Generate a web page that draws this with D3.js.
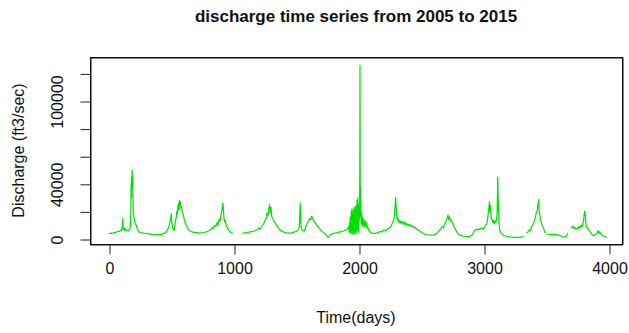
<!DOCTYPE html>
<html>
<head>
<meta charset="utf-8">
<script src="https://cdn.jsdelivr.net/npm/d3@7"></script>
<style>
  html, body { margin: 0; padding: 0; background: #fff; }
  text { font-family: "Liberation Sans", Arial, sans-serif; fill: #111; }
</style>
</head>
<body>
<svg id="chart" width="629" height="333"></svg>
<script>
// ---- data ----
const chartTitle = "discharge time series from 2005 to 2015";
const xLabel = "Time(days)";
const yLabel = "Discharge (ft3/sec)";
const xTicks = [0, 1000, 2000, 3000, 4000];
const yTicks = [0, 20000, 40000, 60000, 80000, 100000, 120000];
const yTickLabelsShown = [0, 40000, 100000];

// [day, discharge ft3/sec]; null = missing record
const dischargeSeries = [
  [0,4200],[10,3900],[20,4300],[30,4100],[40,4600],[50,4800],[60,5100],[70,5600],[80,5200],[90,6000],[100,6400],
  [105,9000],[110,15000],[113,7000],[120,6500],[125,8000],[130,6200],[140,6600],[150,6000],[160,6800],[170,8000],
  [175,20000],[177,40000],[179,30000],[181,45000],[183,38000],[185,50000],[187,42000],[189,46000],[191,35000],
  [193,22000],[195,18000],[200,16000],[205,13000],[210,11000],[218,10000],[225,8000],[232,6000],[240,5300],[250,4800],
  [260,4500],[280,4200],[300,4000],[320,3700],[340,3400],[360,3200],[380,3000],[400,3100],[420,3400],[440,4000],
  [455,5000],[465,6500],[475,8000],[485,11000],[492,14000],[498,18500],[503,12000],[508,9000],[514,7000],[520,6000],
  [526,9000],[532,13000],[538,16000],[542,20000],[547,18000],[551,23000],[556,26000],[560,21000],[564,28000],
  [568,24000],[572,27000],[576,22000],[580,23000],[585,20000],[590,19000],[596,17000],[602,14000],[610,12000],
  [618,10000],[626,8500],[635,7000],[645,6000],[660,5300],[680,4800],[700,4600],[720,4300],[740,4500],[760,4700],
  [780,5200],[800,6000],[815,7000],[825,8500],[835,7500],[845,10000],[855,9000],[865,12000],[872,10000],[880,14000],
  [888,13000],[895,17000],[902,20000],[908,24000],[912,26000],[916,20000],[920,15000],[925,12500],[930,13500],
  [936,11000],[942,9000],[950,7500],[960,6000],[970,5000],[980,4500],[992,4300],[1000,null],
  [1068,4400],[1080,4300],[1100,4600],[1120,5000],[1140,5300],[1160,5600],[1175,6500],[1190,6800],[1200,8000],
  [1210,7000],[1220,9000],[1230,10000],[1240,11500],[1250,14000],[1258,15000],[1265,19000],[1272,17000],
  [1278,22000],[1285,25000],[1290,19000],[1296,23000],[1302,16000],[1310,15500],[1318,13000],[1325,12500],
  [1335,11000],[1345,9000],[1355,8000],[1370,6500],[1385,5500],[1400,5000],[1420,4500],[1440,4200],[1460,4300],
  [1480,5000],[1500,5500],[1510,6500],[1520,7500],[1525,12000],[1530,26000],[1533,18000],[1537,8000],[1545,6500],
  [1555,6000],[1565,6200],[1575,9000],[1585,11000],[1592,12500],[1600,13500],[1608,15000],[1615,14000],
  [1622,16500],[1630,15000],[1638,13000],[1645,12500],[1655,11000],[1665,9500],[1675,8500],[1685,7500],
  [1695,6500],[1705,5500],[1715,4800],[1725,4000],[1735,3200],[1745,2000],[1752,1100],[1758,1500],[1765,2500],
  [1775,3200],[1790,4000],[1805,4200],[1820,4500],[1840,5000],[1860,5300],[1880,6000],[1895,6500],[1910,7700],
  [1918,9000],[1921,5000],[1924,12000],[1927,6000],[1930,16000],[1932,4000],[1934,14000],[1936,6000],[1938,20000],
  [1940,5000],[1942,9000],[1944,22000],[1946,4000],[1948,15000],[1950,18000],[1952,3500],[1954,7000],[1956,21000],
  [1958,4000],[1960,12000],[1962,23000],[1964,5000],[1966,10000],[1968,19000],[1970,3500],[1972,16000],
  [1974,24000],[1976,4000],[1978,8000],[1980,22000],[1982,9000],[1984,28000],[1986,6000],[1988,15000],[1990,30000],
  [1992,12000],[1994,5000],[1996,24000],[1998,5000],[2000,20000],[2002,26000],[2004,14000],[2006,38000],[2008,125600],
  [2010,20000],[2012,38000],[2014,16000],[2016,22000],[2018,11000],[2020,19000],[2022,12000],[2024,17000],[2026,9000],
  [2028,13000],[2031,11000],[2034,15000],[2037,10000],[2040,12000],[2044,9000],[2048,13500],[2052,10000],[2055,11000],
  [2059,8500],[2062,12000],[2066,8000],[2070,9000],[2074,6500],[2078,7000],[2086,5300],[2095,4800],[2105,4200],
  [2115,4000],[2126,4100],[2140,4300],[2155,4800],
  [2170,5500],[2185,5200],[2200,6500],[2215,6000],[2230,7500],[2245,8000],[2255,9000],[2265,11000],[2275,13000],
  [2282,16000],[2288,22000],[2293,30000],[2297,24000],[2301,18000],[2306,14000],[2312,15000],[2318,12000],
  [2325,13500],[2332,11500],[2340,13000],[2348,11000],[2356,12500],[2364,10500],[2372,12000],[2380,10000],
  [2390,11000],[2400,9500],[2410,10500],[2420,9000],[2430,9500],[2440,8000],[2450,8500],[2460,7000],[2475,6500],
  [2490,5500],[2505,4500],[2520,3800],[2540,3200],[2560,2900],[2580,2800],[2600,3000],[2615,3500],[2630,5000],
  [2645,6500],[2655,7000],[2665,9000],[2675,8000],[2685,11000],[2695,12500],[2705,15000],[2712,17300],
  [2718,14000],[2725,16000],[2732,13000],[2740,13700],[2750,11000],[2760,9000],[2770,7500],[2780,5500],
  [2790,4000],[2800,3000],[2820,2500],[2840,2000],[2860,1800],[2880,1700],[2900,2500],[2915,4500],[2925,6500],
  [2940,7000],[2955,6800],[2970,7500],[2985,8000],[2995,7200],[3005,9000],[3015,10000],[3025,12000],[3032,17000],
  [3038,22000],[3044,27000],[3048,20000],[3053,24000],[3058,15000],[3064,14000],[3070,12000],[3076,13700],
  [3082,11000],[3088,13000],[3094,12000],[3100,14000],[3105,18000],[3110,45000],[3113,30000],[3116,20000],
  [3120,12000],[3125,6500],[3135,4500],[3150,3000],[3170,2200],[3190,1800],[3210,1500],[3230,1300],[3250,1200],
  [3270,1200],[3290,1300],[3305,1500],[3312,2000],[3320,null],
  [3340,4100],[3350,5000],[3360,6500],[3370,5800],[3380,8900],[3390,10000],[3398,12000],[3405,14000],
  [3412,16000],[3418,19000],[3424,20000],[3428,22000],[3433,26000],[3438,28500],[3442,20000],[3447,17000],
  [3452,14000],[3458,12000],[3465,10000],[3472,8500],[3480,7000],[3486,4500],[3492,null],
  [3500,3400],[3530,3200],[3560,3300],[3590,3000],[3610,2500],[3625,1600],[3645,1500],[3660,2000],[3670,4100],
  [3680,null],
  [3698,9000],[3705,8000],[3712,9500],[3720,7500],[3728,8500],[3736,7000],[3744,8000],[3752,7500],[3760,9000],
  [3768,8000],[3776,10000],[3784,9000],[3790,11000],[3796,13000],[3800,17000],[3805,20000],[3810,18000],
  [3814,12000],[3820,9000],[3828,8000],[3836,6500],[3845,6000],[3855,4500],[3865,3000],[3875,2500],[3885,2800],
  [3895,3500],[3905,4500],[3912,6000],[3918,4000],[3925,5300],[3935,3500],[3945,2500],[3955,2000],[3965,1800],
  [3975,1400],[3985,1200]
];

// ---- layout ----
const svg = d3.select("#chart");
const plotLeft = 90, plotRight = 622, plotTop = 57, plotBottom = 244;

const x = d3.scaleLinear().domain([0, 4000]).range([109, 609]);
const y = d3.scaleLinear().domain([0, 100000]).range([239, 101]);
// full extent of the plot region in data units (for the frame)
const xEdge = [x.invert(plotLeft), x.invert(plotRight)];
const yEdge = [y.invert(plotBottom), y.invert(plotTop)];

// data line
const line = d3.line()
  .defined(d => d[1] !== null)
  .x(d => x(d[0]))
  .y(d => y(d[1]));

svg.append("path")
  .datum(dischargeSeries)
  .attr("d", line)
  .attr("fill", "none")
  .attr("stroke", "#00e000")
  .attr("stroke-width", 1.2)
  .attr("stroke-linejoin", "round");

// frame: drawn as full-length tick lines at the plot edges
const fxg = svg.append("g")
  .attr("transform", `translate(0.5,${plotBottom + 0.5})`)
  .call(d3.axisBottom(x).tickValues(xEdge).tickFormat("").tickSizeOuter(0)
    .tickSize(-(plotBottom - plotTop)));
fxg.select(".domain").remove();
fxg.selectAll(".tick line").attr("stroke", "#111").attr("stroke-width", 1);
const fyg = svg.append("g")
  .attr("transform", `translate(${plotLeft + 0.5},0.5)`)
  .call(d3.axisLeft(y).tickValues(yEdge).tickFormat("").tickSizeOuter(0)
    .tickSize(-(plotRight - plotLeft)));
fyg.select(".domain").remove();
fyg.selectAll(".tick line").attr("stroke", "#111").attr("stroke-width", 1);

// x axis
const gx = svg.append("g")
  .attr("transform", `translate(0.5,${plotBottom + 0.5})`)
  .call(d3.axisBottom(x).tickValues(xTicks).tickSize(10).tickFormat(d3.format("d")));
gx.select(".domain").remove();
gx.selectAll(".tick line").attr("stroke", "#222");
gx.selectAll(".tick text")
  .attr("y", 29).attr("dy", 0)
  .style("font-family", "Liberation Sans, Arial, sans-serif")
  .style("font-size", "16px").attr("fill", "#111");

// y axis
const gy = svg.append("g")
  .attr("transform", `translate(${plotLeft + 0.5},0.5)`)
  .call(d3.axisLeft(y).tickValues(yTicks).tickSize(10)
    .tickFormat(d => yTickLabelsShown.includes(d) ? String(d) : ""));
gy.select(".domain").remove();
gy.selectAll(".tick line").attr("stroke", "#222");
gy.selectAll(".tick text")
  .attr("x", 0).attr("y", -28).attr("dy", 0)
  .attr("transform", "rotate(-90)")
  .attr("text-anchor", "middle")
  .style("font-family", "Liberation Sans, Arial, sans-serif")
  .style("font-size", "16px").attr("fill", "#111");

// title
svg.append("text")
  .attr("x", (plotLeft + plotRight) / 2).attr("y", 22)
  .attr("text-anchor", "middle")
  .style("font-size", "17px").style("font-weight", "bold")
  .text(chartTitle);

// x label
svg.append("text")
  .attr("x", (plotLeft + plotRight) / 2).attr("y", 323)
  .attr("text-anchor", "middle")
  .style("font-size", "16px")
  .text(xLabel);

// y label
svg.append("text")
  .attr("transform", `translate(24,${(plotTop + plotBottom) / 2}) rotate(-90)`)
  .attr("text-anchor", "middle")
  .style("font-size", "16px")
  .text(yLabel);

// plain rectangle as well (same edges)
svg.append("rect")
  .attr("x", plotLeft + 0.5).attr("y", plotTop + 0.5)
  .attr("width", plotRight - plotLeft).attr("height", plotBottom - plotTop)
  .attr("fill", "none").attr("stroke", "#111").attr("stroke-width", 1);
</script>
</body>
</html>
